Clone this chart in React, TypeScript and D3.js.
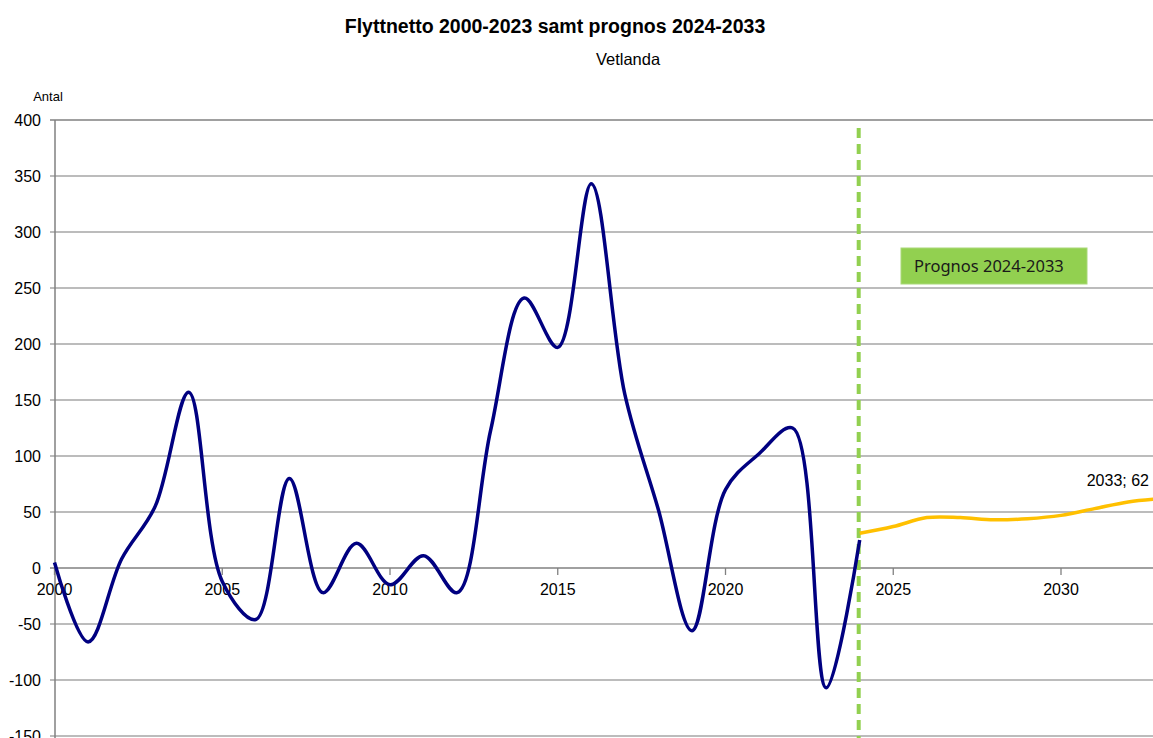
import React, { useRef, useEffect } from 'react';
import * as d3 from 'd3';

// utfall 2000-2024 (sista punkten kopplar mot prognosen)
const histYears = d3.range(2000, 2025);
const histValues = [5, -66, 8, 55, 157, -12, -46, 80, -22, 22, -15, 11, -22, 123, 241, 197, 343, 155, 52, -56, 70, 102, 125, -107, 25];

// prognos 2024-2033
const progYears = d3.range(2024, 2034);
const progValues = [31, 37, 45, 45, 43, 44, 47, 53, 59, 62];

const yTicks = [400, 350, 300, 250, 200, 150, 100, 50, 0, -50, -100, -150];
const xTicks = [2000, 2005, 2010, 2015, 2020, 2025, 2030];

const W = 1153;
const H = 738;

const App: React.FC = () => {
  const ref = useRef<SVGSVGElement | null>(null);

  useEffect(() => {
    const svg = d3.select(ref.current);
    svg.selectAll('*').remove();

    const x = d3.scaleLinear().domain([2000, 2030]).range([54.5, 1061]);
    const y = d3.scaleLinear().domain([-150, 400]).range([736, 120]);
    const font = 'Arial, "Liberation Sans", sans-serif';

    // rubriker
    svg.append('text')
      .attr('x', 555).attr('y', 33)
      .attr('text-anchor', 'middle')
      .style('font', `bold 19.5px ${font}`)
      .text('Flyttnetto 2000-2023 samt prognos 2024-2033');
    svg.append('text')
      .attr('x', 628).attr('y', 65)
      .attr('text-anchor', 'middle')
      .style('font', `16.5px ${font}`)
      .text('Vetlanda');
    svg.append('text')
      .attr('x', 48).attr('y', 101)
      .attr('text-anchor', 'middle')
      .style('font', `13px ${font}`)
      .text('Antal');

    // stödlinjer
    svg.append('g').selectAll('line')
      .data(yTicks)
      .join('line')
      .attr('x1', 50).attr('x2', W)
      .attr('y1', d => y(d)).attr('y2', d => y(d))
      .attr('stroke', d => (d === 0 || d === 400) ? '#808080' : '#a6a6a6')
      .attr('stroke-width', 1.3);

    svg.append('g').selectAll('text')
      .data(yTicks)
      .join('text')
      .attr('x', 41).attr('y', d => y(d) + 6)
      .attr('text-anchor', 'end')
      .style('font', `16px ${font}`)
      .text(d => d);

    // y-axel
    svg.append('line')
      .attr('x1', 55).attr('x2', 55)
      .attr('y1', y(400)).attr('y2', H)
      .attr('stroke', '#808080').attr('stroke-width', 1.5);

    // x-axel ticks och etiketter
    svg.append('g').selectAll('line')
      .data(xTicks)
      .join('line')
      .attr('x1', d => x(d)).attr('x2', d => x(d))
      .attr('y1', y(0)).attr('y2', y(0) + 7)
      .attr('stroke', '#808080').attr('stroke-width', 1.3);

    svg.append('g').selectAll('text')
      .data(xTicks)
      .join('text')
      .attr('x', d => x(d)).attr('y', y(0) + 27)
      .attr('text-anchor', 'middle')
      .style('font', `16px ${font}`)
      .text(d => d);

    // prognosgräns
    svg.append('line')
      .attr('x1', x(2024) - 1).attr('x2', x(2024) - 1)
      .attr('y1', 128).attr('y2', H)
      .attr('stroke', '#92d050').attr('stroke-width', 4)
      .attr('stroke-dasharray', '10,6');

    const line = d3.line<[number, number]>()
      .x(d => x(d[0]))
      .y(d => y(d[1]))
      .curve(d3.curveCatmullRom.alpha(0.5));

    svg.append('path')
      .datum(histYears.map((yr, i) => [yr, histValues[i]] as [number, number]))
      .attr('d', line)
      .attr('fill', 'none')
      .attr('stroke', '#000080')
      .attr('stroke-width', 3.5);

    svg.append('path')
      .datum(progYears.map((yr, i) => [yr, progValues[i]] as [number, number]))
      .attr('d', line)
      .attr('fill', 'none')
      .attr('stroke', '#ffc000')
      .attr('stroke-width', 3.5);

    // dataetikett för sista prognosåret
    svg.append('text')
      .attr('x', 1149).attr('y', y(progValues[progValues.length - 1]) - 13)
      .attr('text-anchor', 'end')
      .style('font', `16px ${font}`)
      .text(`${progYears[progYears.length - 1]}; ${progValues[progValues.length - 1]}`);

    // prognosruta
    const box = svg.append('g').attr('transform', 'translate(901,248)');
    box.append('rect')
      .attr('width', 186).attr('height', 36)
      .attr('fill', '#92d050')
      .attr('stroke', '#a9d878').attr('stroke-width', 1);
    box.append('text')
      .attr('x', 13).attr('y', 24)
      .style('font', '16.5px "Noto Sans", "Open Sans", sans-serif')
      .attr('fill', '#1a1a1a')
      .text('Prognos 2024-2033');
  }, []);

  return (
    <svg
      ref={ref}
      width={W}
      height={H}
      style={{ position: 'absolute', left: 0, top: 0, background: '#fff' }}
    />
  );
};

export default App;
